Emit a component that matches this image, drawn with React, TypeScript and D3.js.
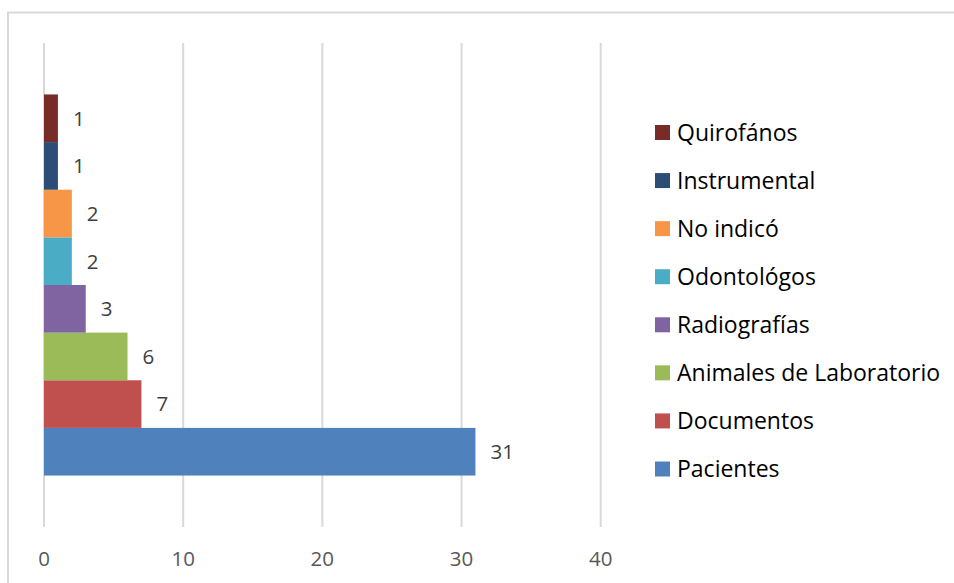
import React from "react";
import * as d3 from "d3";

const seriesNames = [
  "Pacientes",
  "Documentos",
  "Animales de Laboratorio",
  "Radiografías",
  "Odontológos",
  "No indicó",
  "Instrumental",
  "Quirofános",
];
const seriesValues = [31, 7, 6, 3, 2, 2, 1, 1];
const seriesColors = [
  "#4F81BD",
  "#C0504D",
  "#9BBB59",
  "#8064A2",
  "#4BACC6",
  "#F79646",
  "#2C4D75",
  "#772C2A",
];
const xTicks = [0, 10, 20, 30, 40];

const W = 954;
const H = 583;
const FONT = "'Open Sans', 'Noto Sans', Arial, sans-serif";

export default function App() {
  const plotTop = 43;
  const plotBottom = 527;
  const x = d3.scaleLinear().domain([0, 40]).range([44, 600.7]);
  const group = d3.scaleBand().domain(["all"]).range([plotTop, plotBottom]).paddingOuter(0.135);
  const g0 = group("all") as number;
  const gw = group.bandwidth();
  const y = d3
    .scaleBand()
    .domain([...seriesNames].reverse())
    .range([g0, g0 + gw]);
  const legendY = d3
    .scalePoint()
    .domain([...seriesNames].reverse())
    .range([132.5, 469]);

  return (
    <svg
      width={W}
      height={H}
      style={{ position: "absolute", left: 0, top: 0, background: "#fff" }}
      fontFamily={FONT}
    >
      <rect x={8} y={12.5} width={W + 10} height={H + 10} fill="#fff" stroke="#d9d9d9" strokeWidth={2} />
      {xTicks.map((t) => (
        <g key={t}>
          <line x1={x(t)} x2={x(t)} y1={plotTop} y2={plotBottom} stroke="#d9d9d9" strokeWidth={2} />
          <text x={x(t)} y={566} textAnchor="middle" fontSize={20.5} fill="#595959">
            {t}
          </text>
        </g>
      ))}
      {seriesNames.map((n, i) => (
        <g key={n}>
          <rect
            x={x(0)}
            y={y(n)}
            width={x(seriesValues[i]) - x(0)}
            height={y.bandwidth()}
            fill={seriesColors[i]}
          />
          <text
            x={x(seriesValues[i]) + 15}
            y={(y(n) as number) + y.bandwidth() / 2}
            dy="0.36em"
            fontSize={20.5}
            fill="#404040"
          >
            {seriesValues[i]}
          </text>
        </g>
      ))}
      {seriesNames.map((n, i) => (
        <g key={"l" + n} transform={`translate(655,${legendY(n)})`}>
          <rect x={0} y={-7.5} width={15} height={15} fill={seriesColors[i]} />
          <text x={22} y={0} dy="0.36em" fontSize={23} fill="#000">
            {n}
          </text>
        </g>
      ))}
    </svg>
  );
}
